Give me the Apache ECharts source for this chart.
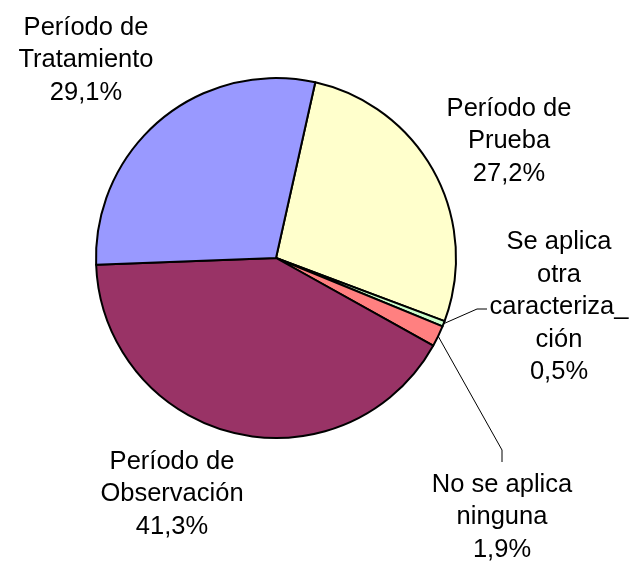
<!DOCTYPE html>
<html><head><meta charset="utf-8">
<script src="https://cdn.jsdelivr.net/npm/echarts@6/dist/echarts.min.js"></script>
<style>html,body{margin:0;padding:0;background:#fff}#chart{width:643px;height:573px}</style>
</head><body><div id="chart"></div>
<script>
// Data
const categories = ['Período de\nPrueba', 'Se aplica\notra\ncaracteriza_\nción', 'No se aplica\nninguna', 'Período de\nObservación', 'Período de\nTratamiento'];
const values = [27.2, 0.5, 1.9, 41.3, 29.1];
const colors = ['#FFFFCC', '#CCFFCC', '#FF8080', '#993366', '#9999FF'];

// Layout (label block centres and leader-line bends)
const labelAnchors = [[509, 141], [559, 307], [502, 517], [172, 494], [86, 60]];
const leaderBends = [null, [[477, 309], [487, 309]], [[502, 450], [502, 462]], null, null];

const chart = echarts.init(document.getElementById('chart'), null, {renderer: 'canvas'});
const cx = 276, cy = 258, R = 180;
chart.setOption({
  animation: false,
  backgroundColor: '#fff',
  series: [{
    type: 'pie',
    center: [cx, cy],
    radius: R,
    startAngle: 77.4,
    clockwise: true,
    avoidLabelOverlap: false,
    data: categories.map((c, i) => ({
      name: c, value: values[i],
      itemStyle: {color: colors[i]},
      labelLine: {show: leaderBends[i] != null}
    })),
    itemStyle: {borderColor: '#000', borderWidth: 2},
    label: {
      show: true,
      position: 'outside',
      color: '#000',
      fontFamily: 'Liberation Sans, Arial, sans-serif',
      fontSize: 25.5,
      lineHeight: 32.5,
      align: 'center',
      formatter: p => p.name + '\n' + p.value.toFixed(1).replace('.', ',') + '%'
    },
    labelLine: {show: true, lineStyle: {color: '#000', width: 1}, length: 10, length2: 10},
    labelLayout: function (params) {
      const i = params.dataIndex;
      const a = labelAnchors[i];
      const out = {x: a[0], y: a[1], align: 'center', verticalAlign: 'middle'};
      if (leaderBends[i]) {
        const start = params.labelLinePoints ? params.labelLinePoints[0] : [cx, cy];
        out.labelLinePoints = [start, leaderBends[i][0], leaderBends[i][1]];
      }
      return out;
    }
  }]
});
</script></body></html>
